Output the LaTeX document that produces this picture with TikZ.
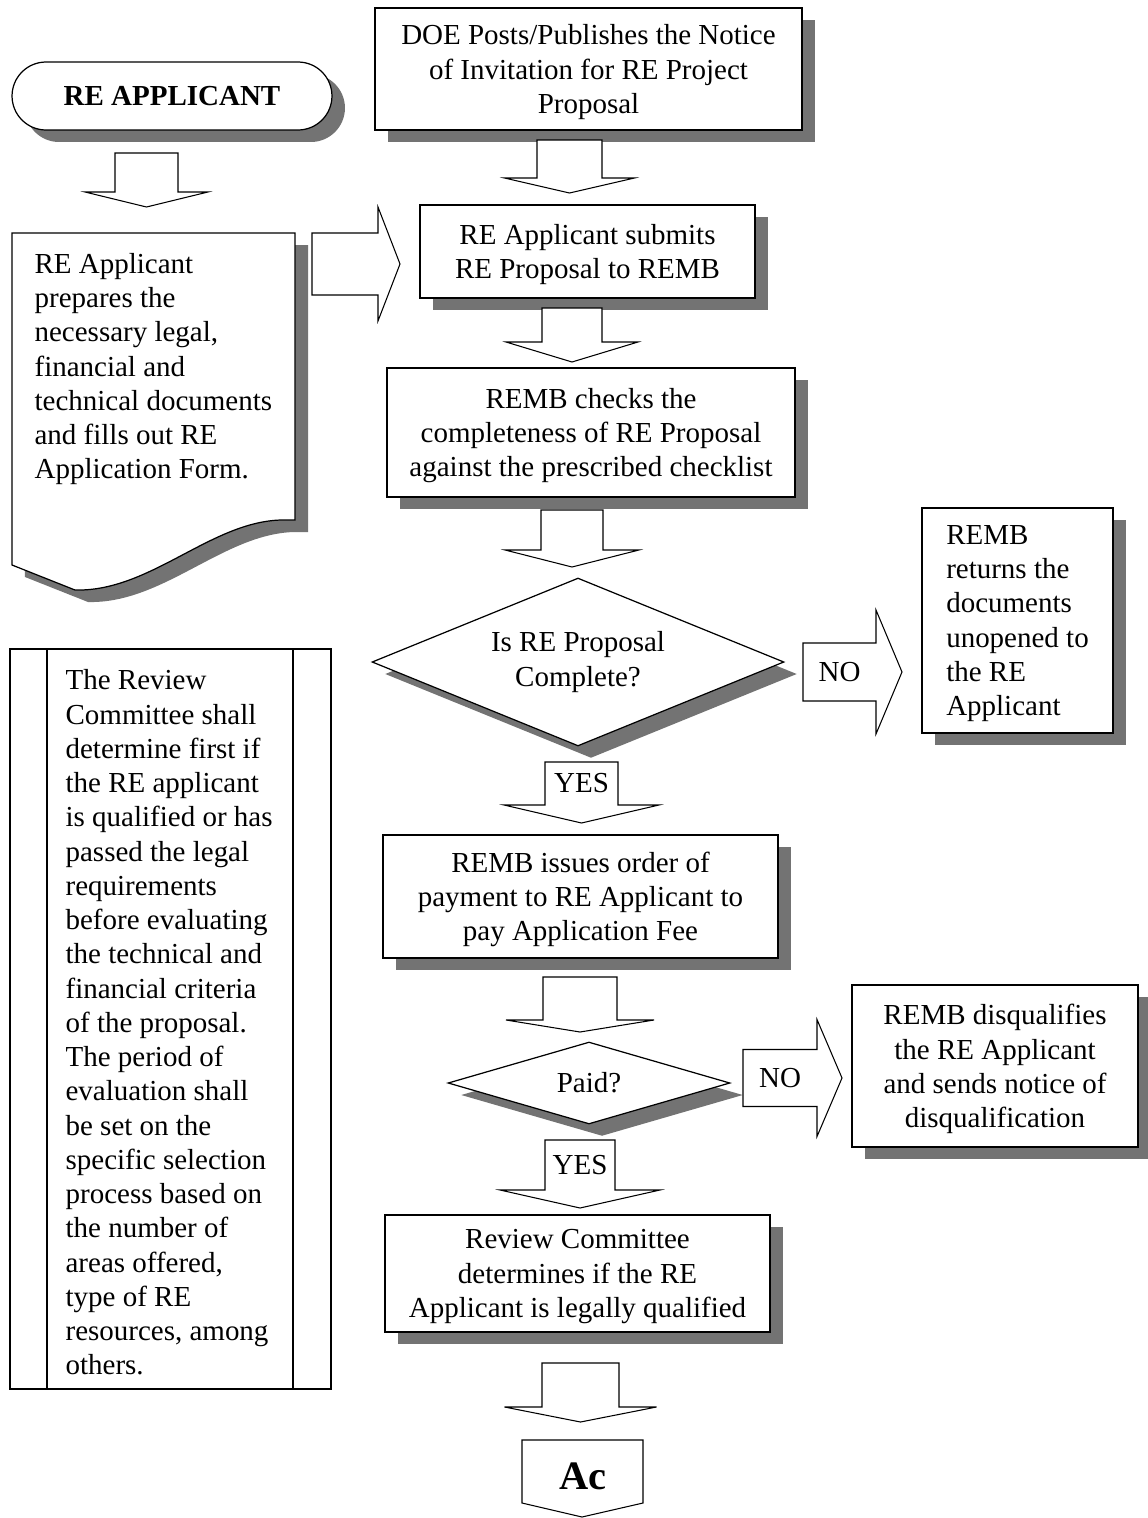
\documentclass[tikz,border=0pt]{standalone}
\usepackage{fontspec}
\setmainfont{Liberation Serif}
\usetikzlibrary{shapes.geometric,shapes.misc,shadows}

\tikzset{
  shd/.style={drop shadow={shadow xshift=0.26cm, shadow yshift=-0.24cm, fill=black!55, opacity=1}},
  box/.style={draw, fill=white, align=center, inner sep=0pt, text depth=0pt, shd},
  term/.style={rounded rectangle, draw, fill=white, inner sep=0pt, shd},
  decision/.style={diamond, draw, fill=white, align=center, inner sep=0pt, shd},
  blk/.style={draw, fill=white, line width=0.6pt, line join=miter},
}

% block arrows: name, cx, top, shaft half width, head y, head half width, tip y, label
\newcommand{\blkdown}[8]{%
  \draw[blk] ({#2-#4},#3) -- ({#2+#4},#3) -- ({#2+#4},#5) -- ({#2+#6},#5)
    -- (#2,#7) -- ({#2-#6},#5) -- ({#2-#4},#5) -- cycle;
  \node[inner sep=0pt] (#1) at (#2,{(#3+#5)/2}) {#8};}
% name, cy, left, shaft half height, head x, head half height, tip x, label
\newcommand{\blkright}[8]{%
  \draw[blk] (#3,{#2-#4}) -- (#5,{#2-#4}) -- (#5,{#2-#6}) -- (#7,#2)
    -- (#5,{#2+#6}) -- (#5,{#2+#4}) -- (#3,{#2+#4}) -- cycle;
  \node[inner sep=0pt] (#1) at ({(#3+#5)/2},#2) {#8};}

\begin{document}
\begin{tikzpicture}[x=0.02cm, y=-0.02cm, font=\fontsize{16.5}{19.5}\selectfont, line width=0.7pt]
  \useasboundingbox (0,0) rectangle (1148,1518);

  % left column
  \node[term, minimum width=6.4cm, minimum height=1.36cm] (start) at (172,96) {\bfseries RE APPLICANT};
  \draw[fill=white, shd] (12,233) -- (295,233) -- (295,520) -- (281,520)
    .. controls (210,522) and (150,592) .. (75,590) -- (12,565) -- cycle;
  \node[anchor=west, align=left, inner sep=0pt, text depth=0pt] (prep) at (34,366)
    {RE Applicant\\prepares the\\necessary legal,\\financial and\\technical documents\\and fills out RE\\Application Form.};

  \node[draw, minimum width=6.42cm, minimum height=14.8cm, inner sep=0pt] (notebox) at (170.5,1019) {};
  \draw (47,649) -- (47,1389);
  \draw (293,649) -- (293,1389);
  \node[anchor=west, align=left, inner sep=0pt] (note) at (65,1022.5)
    {The Review\\Committee shall\\determine first if\\the RE applicant\\is qualified or has\\passed the legal\\requirements\\before evaluating\\the technical and\\financial criteria\\of the proposal.\\The period of\\evaluation shall\\be set on the\\specific selection\\process based on\\the number of\\areas offered,\\type of RE\\resources, among\\others.};

  % main column
  \node[box, minimum width=8.54cm, minimum height=2.44cm] (doe) at (588.5,69)
    {DOE Posts/Publishes the Notice\\of Invitation for RE Project\\Proposal};
  \node[box, minimum width=6.7cm, minimum height=1.86cm] (submit) at (587.5,251.5)
    {RE Applicant submits\\RE Proposal to REMB};
  \node[box, minimum width=8.16cm, minimum height=2.58cm] (check) at (591,432.5)
    {REMB checks the\\completeness of RE Proposal\\against the prescribed checklist};
  \node[decision, aspect=2.45, minimum width=8.24cm, minimum height=3.36cm] (complete) at (578,662)
    {Is RE Proposal\\Complete?};
  \node[box, align=left, minimum width=3.82cm, minimum height=4.5cm] (return) at (1017.5,620.5)
    {REMB\\returns the\\documents\\unopened to\\the RE\\Applicant};
  \node[box, minimum width=7.9cm, minimum height=2.46cm] (order) at (580.5,896.5)
    {REMB issues order of\\payment to RE Applicant to\\pay Application Fee};
  \node[decision, aspect=3.4, minimum width=5.64cm, minimum height=1.64cm] (paid) at (589,1083)
    {Paid?};
  \node[box, minimum width=5.72cm, minimum height=3.24cm] (disq) at (995,1066)
    {REMB disqualifies\\the RE Applicant\\and sends notice of\\disqualification};
  \node[box, minimum width=7.7cm, minimum height=2.34cm] (legal) at (577.5,1273.5)
    {Review Committee\\determines if the RE\\Applicant is legally qualified};

  \draw[blk] (522,1440) -- (643,1440) -- (643,1503) -- (582,1517) -- (522,1503) -- cycle;
  \node (ac) at (583,1476) {\fontsize{23}{28}\selectfont\bfseries Ac};

  % block arrows
  \blkdown{a1}{146.5}{153}{31.5}{192}{61.5}{207}{}
  \blkdown{a2}{569.5}{140}{32.5}{178}{65}{193}{}
  \blkdown{a3}{572}{308}{30}{342}{66}{362}{}
  \blkdown{a4}{572}{510}{31}{550}{67}{567}{}
  \blkdown{yes1}{581.5}{762}{36.5}{805}{77.5}{823}{YES}
  \blkdown{a6}{580}{977}{37}{1020}{74}{1032}{}
  \blkdown{yes2}{580}{1140}{35}{1190}{80}{1208}{YES}
  \blkdown{a8}{580.5}{1363}{38.5}{1407}{76}{1422}{}
  \blkright{a9}{264}{312}{31}{378}{57}{400}{}
  \blkright{no1}{672}{803}{29}{876}{62}{902}{NO}
  \blkright{no2}{1078}{743}{28.5}{817}{58.5}{842}{NO}
\end{tikzpicture}
\end{document}
